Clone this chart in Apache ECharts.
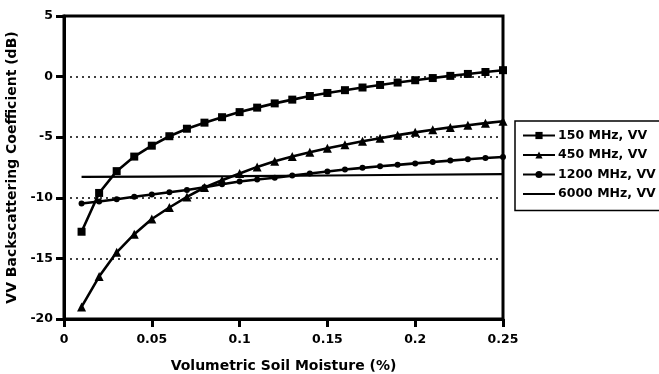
<!DOCTYPE html>
<html>
<head>
<meta charset="utf-8">
<title>VV Backscattering vs Soil Moisture</title>
<script src="https://cdn.jsdelivr.net/npm/echarts@6/dist/echarts.min.js"></script>
<style>
  html, body { margin: 0; padding: 0; background: #fff; }
  #chart { width: 659px; height: 374px; }
</style>
</head>
<body>
<div id="chart"></div>
<script>
// Volumetric soil moisture samples (fraction)
const moisture = [0.01, 0.02, 0.03, 0.04, 0.05, 0.06, 0.07, 0.08, 0.09, 0.10,
                  0.11, 0.12, 0.13, 0.14, 0.15, 0.16, 0.17, 0.18, 0.19, 0.20,
                  0.21, 0.22, 0.23, 0.24, 0.25];

// VV backscattering coefficient (dB) per frequency
const vv150 = [-12.8, -9.6, -7.8, -6.6, -5.7, -4.92, -4.3, -3.8, -3.35, -2.93,
               -2.56, -2.21, -1.9, -1.6, -1.35, -1.12, -0.9, -0.69, -0.49, -0.3,
               -0.12, 0.06, 0.22, 0.38, 0.53];
const vv450 = [-19.0, -16.5, -14.5, -13.0, -11.75, -10.8, -9.93, -9.15, -8.55, -8.0,
               -7.45, -6.98, -6.6, -6.25, -5.92, -5.62, -5.33, -5.08, -4.83, -4.6,
               -4.39, -4.19, -4.01, -3.84, -3.68];
const vv1200 = [-10.47, -10.3, -10.12, -9.92, -9.73, -9.54, -9.36, -9.13, -8.88, -8.66,
                -8.49, -8.34, -8.17, -8.0, -7.83, -7.67, -7.53, -7.4, -7.28, -7.16,
                -7.04, -6.93, -6.82, -6.72, -6.63];
// 6000 MHz is drawn as a plain line through a few readings
const moisture6000 = [0.01, 0.05, 0.10, 0.15, 0.20, 0.25];
const vv6000 = [-8.28, -8.25, -8.21, -8.16, -8.10, -8.05];

const seriesNames = ['150 MHz, VV', '450 MHz, VV', '1200 MHz, VV', '6000 MHz, VV'];

const xTicks = { min: 0, max: 0.25, interval: 0.05 };
const yTicks = { min: -20, max: 5, interval: 5 };

const FONT = 'DejaVu Sans';
const pairs = (xs, ys) => xs.map((x, i) => [x, ys[i]]);

const chart = echarts.init(document.getElementById('chart'), null, { renderer: 'canvas' });

const lineBase = {
  type: 'line',
  smooth: false,
  animation: false,
  color: '#000',
  lineStyle: { color: '#000', width: 2.6 },
  itemStyle: { color: '#000', borderWidth: 0 },
  emphasis: { disabled: true }
};

chart.setOption({
  backgroundColor: '#fff',
  animation: false,
  textStyle: { fontFamily: FONT },
  grid: {
    left: 64, right: 156, top: 16, bottom: 55,
    outerBoundsMode: 'none',
    show: true, borderColor: '#000', borderWidth: 3
  },
  legend: {
    // the plain 6000 MHz line gets no marker in its key
    data: [
      seriesNames[0], seriesNames[1], seriesNames[2],
      { name: seriesNames[3], itemStyle: { opacity: 0 } }
    ],
    orient: 'vertical',
    left: 515, top: 121,
    itemWidth: 32, itemHeight: 9, itemGap: 6.5,
    padding: [8, 8, 10, 7],
    borderColor: '#000', borderWidth: 1.5,
    textStyle: { fontFamily: FONT, fontWeight: 'bold', fontSize: 12.5, color: '#000', padding: [0, 0, 0, -2] },
    selectedMode: false
  },
  xAxis: {
    type: 'value',
    min: xTicks.min, max: xTicks.max, interval: xTicks.interval,
    name: 'Volumetric Soil Moisture (%)',
    nameLocation: 'middle', nameGap: 40,
    nameTextStyle: { fontFamily: FONT, fontWeight: 'bold', fontSize: 14, color: '#000' },
    axisLine: { show: true, onZero: false, lineStyle: { color: '#000', width: 3 } },
    axisTick: { show: true, length: 8, lineStyle: { color: '#000', width: 3 } },
    axisLabel: { fontFamily: FONT, fontWeight: 'bold', fontSize: 12.5, color: '#000', margin: 14,
                 formatter: v => String(+v.toFixed(2)) },
    splitLine: { show: false }
  },
  yAxis: {
    type: 'value',
    min: yTicks.min, max: yTicks.max, interval: yTicks.interval,
    name: 'VV Backscattering Coefficient (dB)',
    nameLocation: 'middle', nameGap: 41, nameRotate: 90,
    nameTextStyle: { fontFamily: FONT, fontWeight: 'bold', fontSize: 14, color: '#000' },
    axisLine: { show: true, onZero: false, lineStyle: { color: '#000', width: 3 } },
    axisTick: { show: true, length: 8, lineStyle: { color: '#000', width: 3 } },
    axisLabel: { fontFamily: FONT, fontWeight: 'bold', fontSize: 12.5, color: '#000', margin: 11 },
    splitLine: { show: true, lineStyle: { color: '#000', width: 1.6, type: [2, 4] } }
  },
  series: [
    Object.assign({}, lineBase, {
      name: seriesNames[0], data: pairs(moisture, vv150),
      symbol: 'rect', symbolSize: 8, z: 4
    }),
    Object.assign({}, lineBase, {
      name: seriesNames[1], data: pairs(moisture, vv450),
      symbol: 'triangle', symbolSize: 9, z: 3
    }),
    Object.assign({}, lineBase, {
      name: seriesNames[2], data: pairs(moisture, vv1200),
      symbol: 'circle', symbolSize: 6, z: 2
    }),
    Object.assign({}, lineBase, {
      name: seriesNames[3], data: pairs(moisture6000, vv6000),
      symbol: 'none', z: 1,
      lineStyle: { color: '#000', width: 2.2 }
    })
  ]
});
</script>
</body>
</html>
